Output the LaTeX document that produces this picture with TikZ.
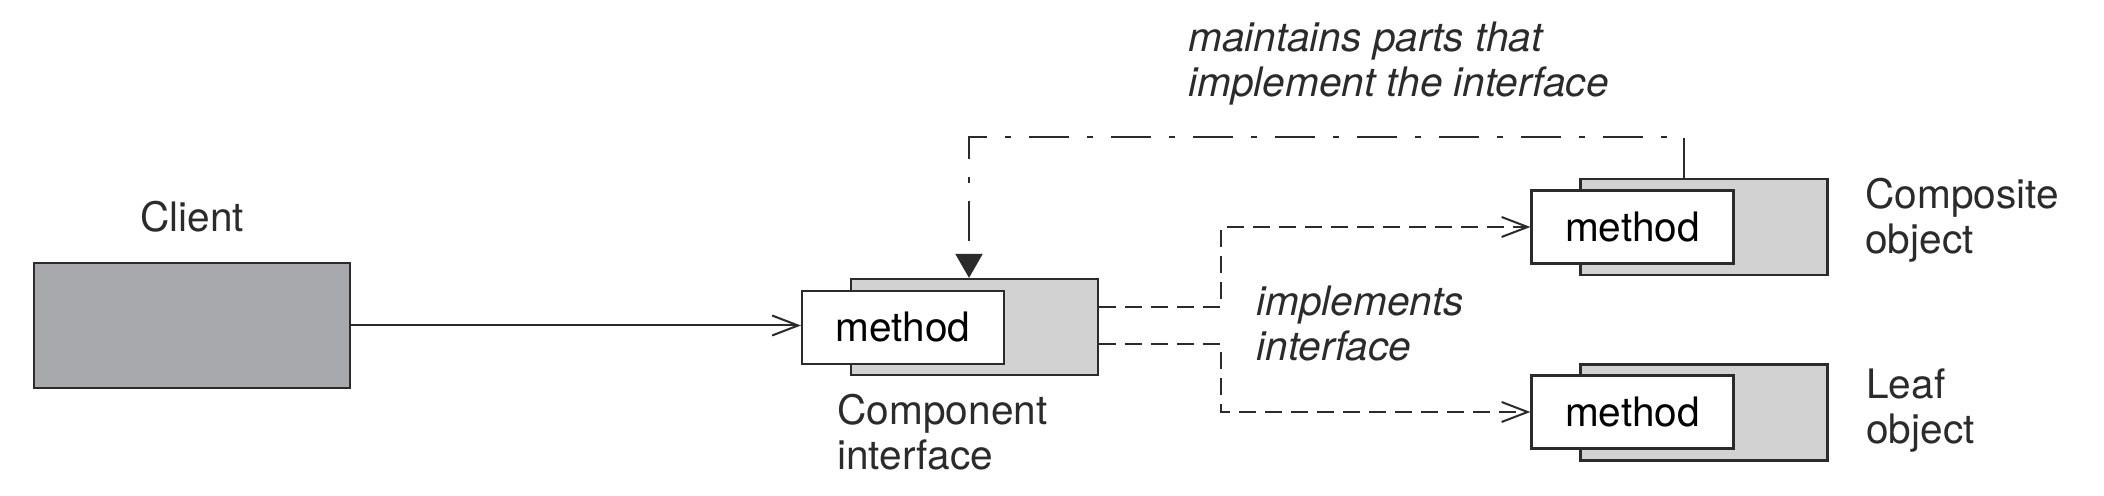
\documentclass[tikz,border=0pt]{standalone}
\usepackage{fontspec}
\setmainfont{TeX Gyre Heros}
\usetikzlibrary{arrows.meta}
\definecolor{linec}{HTML}{2B2B2B}
\definecolor{clientgray}{HTML}{A8A9AC}
\definecolor{lightg}{HTML}{D2D2D2}
\tikzset{
  box/.style={draw=linec, line width=1.1pt, inner sep=0pt, rectangle},
  clientbox/.style={box, fill=clientgray, minimum width=158pt, minimum height=62.5pt},
  backbox/.style={box, fill=lightg, minimum width=123.5pt, minimum height=48pt},
  frontbox/.style={box, fill=white, minimum width=101pt, minimum height=36.5pt},
  lbl/.style={inner sep=0pt, align=left, text=linec},
  ilbl/.style={lbl, font=\fontsize{20.3}{22.5}\selectfont\itshape},
  conn/.style={draw=linec, line width=1pt},
  openarrow/.tip={Straight Barb[length=13pt,width=10pt,line width=1pt]},
  dashedc/.style={conn, dash pattern=on 8.5pt off 4.5pt},
  dashdotc/.style={conn, dash pattern=on 20pt off 9pt on 3pt off 9pt},
}
\begin{document}
\begin{tikzpicture}[x=0.5pt,y=-0.5pt,font=\fontsize{20.3}{22.5}\selectfont]
\useasboundingbox (0,0) rectangle (2104,496);
% client
\node[clientbox] (client) at (192,325.5) {};
\node[lbl, anchor=base] (clientlbl) at (192,232) {Client};
% component interface (base anchor = last line)
\node[backbox] (kgray) at (974.5,327) {};
\node[frontbox] (kwhite) at (903,327.5) {method};
\node[lbl, anchor=base west] (klbl) at (837,470) {Component\\interface};
% composite object
\node[backbox] (cgray) at (1704,227) {};
\node[frontbox] (cwhite) at (1632.5,227) {method};
\node[lbl, anchor=base west] (clbl) at (1865,254) {Composite\\object};
% leaf object
\node[backbox] (lgray) at (1704,412.5) {};
\node[frontbox] (lwhite) at (1632.5,412) {method};
\node[lbl, anchor=base west] (llbl) at (1866,444) {Leaf\\object};
% labels
\node[ilbl, anchor=base west] (implbl) at (1256,361) {implements\\interface};
\node[ilbl, anchor=base west] (mainlbl) at (1188,97) {maintains parts that\\implement the interface};
% connectors
\draw[conn, -{openarrow}] (client.east) -- (client.east -| kwhite.west);
\coordinate (j) at (1221,0);
\coordinate (ku) at ([yshift=10pt]kgray.east);
\coordinate (kl) at ([yshift=-8.5pt]kgray.east);
\draw[dashedc, -{openarrow}] (ku) -- (ku -| j) |- (cwhite.west);
\draw[dashedc, -{openarrow}] (kl) -- (kl -| j) |- (lwhite.west);
\coordinate (ddr) at (1684,137);
\coordinate (ddl) at (969,137);
\draw[dashdotc, -{Triangle[length=12pt,width=13.5pt]}] (cgray.north -| ddr) -- (ddr) -- (ddl) -- (ddl |- kgray.north);
\end{tikzpicture}
\end{document}
